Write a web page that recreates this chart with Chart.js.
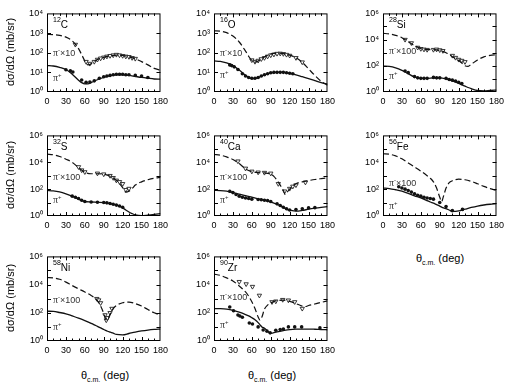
<!DOCTYPE html>
<html>
<head>
<meta charset="utf-8">
<script src="https://cdn.jsdelivr.net/npm/chart.js@4.4.1/dist/chart.umd.min.js"></script>
<style>
  body { margin: 0; background: #fff; }
  #wrap { position: relative; width: 517px; height: 388px; overflow: hidden; font-family: "Liberation Sans", Arial, sans-serif; }
  canvas { position: absolute; }
  .ytitle { position: absolute; font-size: 11px; white-space: nowrap; transform: translate(-50%, -50%) rotate(-90deg); }
  .xtitle { position: absolute; font-size: 11px; white-space: nowrap; transform: translate(-50%, -50%); }
  .xtitle sub { font-size: 7px; }
</style>
</head>
<body>
<div id="wrap"></div>
<script>
// axis ticks
const xTicks = [0, 30, 60, 90, 120, 150, 180];
const yTicksSmall = [1, 10, 100, 1000, 10000];
const yLabelsSmall = ["10⁰", "10¹", "10²", "10³", "10⁴"];
const yTicksLarge = [1, 100, 10000, 1000000];
const yLabelsLarge = ["10⁰", "10²", "10⁴", "10⁶"];

// 12C
const c12Angles = [0, 10, 20, 30, 40, 50, 55, 60, 65, 70, 80, 90, 100, 110, 120, 130, 140, 150, 160, 170, 180];
const c12MinusCurve = [850, 830, 760, 620, 400, 160, 80, 38, 24, 27, 45, 58, 70, 75, 72, 62, 50, 35, 24, 16, 13];
const c12PlusCurve = [22, 21, 18, 14, 8, 4, 3, 2.6, 2.6, 3, 4.2, 5.5, 6.8, 7.5, 7.5, 7, 6.2, 5.5, 5, 4.6, 4.5];
const c12MinusAngles = [45, 62, 68, 75, 80, 85, 90, 95, 100, 105, 110, 115, 120, 125, 130, 135, 140];
const c12MinusData = [260, 35, 28, 35, 45, 52, 58, 65, 70, 75, 80, 75, 70, 65, 62, 55, 50];
const c12PlusAngles = [30, 37, 41, 55, 62, 68, 75, 83, 90, 95, 100, 105, 110, 115, 120, 125, 130, 140, 150, 160];
const c12PlusData = [13.5, 12, 10.5, 4.1, 3.1, 3.2, 3.7, 5, 6, 6.5, 7, 7.5, 8, 8, 8, 7.5, 7.5, 7, 6.5, 5.5];

// 16O
const o16Angles = [0, 10, 20, 30, 40, 50, 55, 60, 65, 70, 80, 90, 100, 110, 120, 130, 140, 150, 160, 170, 180];
const o16MinusCurve = [1300, 1250, 1050, 700, 350, 120, 65, 40, 33, 38, 60, 85, 95, 90, 75, 55, 32, 15, 7, 3.5, 2.2];
const o16PlusCurve = [38, 36, 30, 22, 13, 7, 5.5, 4.8, 4.8, 5.5, 7.5, 9.5, 10, 10, 9, 7.5, 6, 4.8, 3.8, 3, 2.5];
const o16MinusAngles = [60, 65, 70, 75, 80, 85, 90, 95, 100, 105, 110, 115, 120, 130, 140];
const o16MinusData = [42, 35, 40, 48, 55, 65, 75, 82, 90, 92, 88, 80, 72, 55, 33];
const o16PlusAngles = [25, 28, 32, 38, 45, 50, 55, 60, 65, 70, 75, 80, 85, 90, 95, 100, 105, 110, 115, 120, 125];
const o16PlusData = [24, 22, 19, 14, 8.5, 6.5, 5.5, 5, 5, 5.5, 6.5, 7.5, 8.5, 9.5, 10, 10, 10, 10, 9.5, 9, 8.5];

// 28Si
const si28Angles = [0, 10, 20, 30, 40, 50, 60, 70, 80, 90, 100, 110, 120, 125, 130, 135, 140, 150, 160, 170, 180];
const si28MinusCurve = [30000, 27000, 21000, 14000, 7000, 3500, 2100, 1700, 1700, 1500, 1000, 500, 250, 160, 100, 90, 130, 280, 480, 620, 700];
const si28PlusCurve = [95, 90, 70, 45, 25, 14, 11, 11, 12, 12, 10, 7, 4.5, 3.5, 2.8, 2.2, 1.8, 1.3, 1.2, 1.3, 1.4];
const si28MinusAngles = [35, 45, 55, 60, 65, 70, 80, 85, 90, 95, 110, 115, 120, 125, 130];
const si28MinusData = [10000, 5500, 2500, 2000, 1800, 1700, 1700, 1800, 1600, 1400, 600, 420, 300, 250, 200];
const si28PlusAngles = [35, 40, 50, 55, 60, 65, 70, 80, 85, 90, 100, 105, 110, 115, 120, 125];
const si28PlusData = [40, 30, 15, 12, 11, 11, 11, 13, 12, 12, 11, 9, 8, 7, 5.5, 4.5];

// 32S
const s32Angles = [0, 10, 20, 30, 40, 50, 60, 70, 80, 90, 100, 110, 115, 120, 125, 130, 135, 140, 150, 160, 170, 180];
const s32MinusCurve = [40000, 36000, 27000, 17000, 10000, 4000, 1800, 1400, 1400, 1300, 900, 450, 250, 130, 60, 70, 110, 200, 350, 500, 650, 750];
const s32PlusCurve = [80, 75, 62, 45, 30, 18, 12, 11, 10.5, 10, 8.5, 6.5, 5.3, 4, 2.8, 2, 1.5, 1.2, 1.05, 1.15, 1.3, 1.5];
const s32MinusAngles = [50, 55, 60, 80, 90, 100, 105, 110, 115, 120, 125, 130];
const s32MinusData = [4500, 2600, 1900, 1500, 1300, 1000, 700, 450, 350, 250, 90, 110];
const s32PlusAngles = [40, 45, 50, 55, 60, 70, 80, 90, 95, 100, 105, 110, 115, 120];
const s32PlusData = [30, 25, 20, 15, 12, 11, 10.5, 10, 9.5, 8.5, 7.5, 6.5, 5.5, 4.5];

// 40Ca
const ca40Angles = [0, 10, 20, 30, 40, 50, 60, 70, 80, 90, 95, 100, 105, 110, 113, 116, 120, 130, 140, 150, 160, 170, 180];
const ca40MinusCurve = [38000, 34000, 25000, 16000, 8000, 3200, 2000, 1700, 1600, 1300, 900, 450, 200, 80, 40, 60, 100, 250, 350, 430, 520, 600, 680];
const ca40PlusCurve = [80, 78, 70, 55, 42, 33, 25, 19, 15, 11, 9, 7.5, 6, 4.5, 3.6, 3, 2.7, 2.3, 2.6, 3.2, 3.8, 4.4, 5];
const ca40MinusAngles = [38, 50, 60, 70, 80, 90, 102, 112, 120, 125, 130, 145];
const ca40MinusData = [12000, 3500, 2100, 1800, 1700, 1500, 250, 70, 110, 160, 200, 320];
const ca40PlusAngles = [25, 30, 35, 40, 45, 50, 55, 60, 70, 75, 80, 85, 90, 100, 105, 110, 115, 120, 130, 140, 150, 160];
const ca40PlusData = [70, 55, 40, 30, 25, 22, 20, 18, 17, 16, 15, 14, 12, 8, 6, 4.5, 3.5, 2.8, 3, 3.5, 4, 4.2];

// 56Fe
const fe56Angles = [0, 10, 20, 30, 40, 50, 60, 70, 75, 80, 85, 90, 93, 96, 100, 105, 110, 120, 130, 140, 150, 160, 170, 180];
const fe56MinusCurve = [43000, 40000, 30000, 18000, 9000, 4500, 2200, 1000, 650, 350, 120, 25, 12, 30, 120, 300, 420, 550, 500, 380, 250, 160, 110, 80];
const fe56PlusCurve = [120, 110, 90, 70, 48, 32, 22, 14, 11, 9, 7, 5.5, 4.6, 4, 3.5, 2.8, 2.2, 2.4, 3.2, 4.3, 5.5, 6.6, 7.5, 8.2];
const fe56PlusAngles = [25, 30, 35, 40, 45, 50, 55, 60, 65, 70, 75, 80, 90, 100, 110, 126];
const fe56PlusData = [150, 120, 100, 80, 60, 45, 35, 30, 25, 22, 20, 18, 10, 5, 2.5, 3.1];

// 58Ni
const ni58Angles = [0, 10, 20, 30, 40, 50, 60, 70, 75, 80, 85, 90, 93, 96, 99, 102, 105, 110, 120, 130, 140, 150, 160, 170, 180];
const ni58MinusCurve = [32000, 30000, 24000, 15000, 8500, 5000, 3000, 1700, 1200, 700, 300, 90, 35, 30, 60, 120, 200, 330, 520, 580, 450, 300, 170, 100, 70];
const ni58PlusCurve = [130, 125, 105, 85, 60, 42, 28, 18, 14, 11, 8.5, 6.5, 5.6, 4.9, 4.4, 4, 3.6, 2.9, 2.7, 3.4, 4.3, 5.2, 6, 6.6, 7];
const ni58MinusAngles = [79, 82, 85, 92, 94, 96, 100, 103];
const ni58MinusData = [1000, 800, 500, 70, 30, 45, 100, 200];

// 90Zr
const zr90Angles = [0, 10, 20, 30, 40, 50, 55, 60, 65, 70, 73, 76, 80, 85, 90, 100, 110, 120, 130, 140, 145, 150, 160, 170, 180];
const zr90MinusCurve = [55000, 45000, 30000, 18000, 8000, 3000, 1500, 600, 200, 50, 30, 50, 180, 350, 500, 750, 780, 650, 450, 300, 280, 330, 420, 550, 700];
const zr90PlusCurve = [200, 195, 180, 150, 110, 75, 60, 45, 32, 20, 14, 10, 8, 5, 3.5, 4.5, 5.5, 6.5, 7, 7, 7, 7, 6.8, 6.5, 6.3];
const zr90MinusAngles = [40, 51, 61, 72, 92, 98, 109, 118, 128, 140];
const zr90MinusData = [16000, 11000, 7200, 1700, 590, 660, 850, 780, 590, 200];
const zr90PlusAngles = [25, 31, 38, 41, 45, 56, 61, 70, 78, 84, 89, 98, 105, 110, 118, 128, 139, 168];
const zr90PlusData = [260, 140, 70, 60, 48, 19, 16, 10, 6, 5, 3.8, 5.8, 6.5, 7, 10, 10, 10, 8.5];

// layout of the plot boxes
const colLeft = [47, 214, 383];
const rowTop = [12, 134, 255];
const rowHeight = [80, 82, 86];
const boxWidth = 115;

Chart.defaults.font.family = '"Liberation Sans", Arial, sans-serif';
Chart.defaults.color = "#000";

const panels = [
    { row: 0, col: 0, mass: "12", sym: "C", mult: "10", big: false, ang: c12Angles, minus: c12MinusCurve, plus: c12PlusCurve,
      triA: c12MinusAngles, triV: c12MinusData, dotA: c12PlusAngles, dotV: c12PlusData, piM: 0.51, piP: 0.82 },
    { row: 0, col: 1, mass: "16", sym: "O", mult: "10", big: false, ang: o16Angles, minus: o16MinusCurve, plus: o16PlusCurve,
      triA: o16MinusAngles, triV: o16MinusData, dotA: o16PlusAngles, dotV: o16PlusData, piM: 0.5, piP: 0.79 },
    { row: 0, col: 2, mass: "28", sym: "Si", mult: "100", big: true, ang: si28Angles, minus: si28MinusCurve, plus: si28PlusCurve,
      triA: si28MinusAngles, triV: si28MinusData, dotA: si28PlusAngles, dotV: si28PlusData, piM: 0.48, piP: 0.8 },
    { row: 1, col: 0, mass: "32", sym: "S", mult: "100", big: true, ang: s32Angles, minus: s32MinusCurve, plus: s32PlusCurve,
      triA: s32MinusAngles, triV: s32MinusData, dotA: s32PlusAngles, dotV: s32PlusData, piM: 0.52, piP: 0.8 },
    { row: 1, col: 1, mass: "40", sym: "Ca", mult: "100", big: true, ang: ca40Angles, minus: ca40MinusCurve, plus: ca40PlusCurve,
      triA: ca40MinusAngles, triV: ca40MinusData, dotA: ca40PlusAngles, dotV: ca40PlusData, piM: 0.52, piP: 0.8 },
    { row: 1, col: 2, mass: "56", sym: "Fe", mult: "100", big: true, ang: fe56Angles, minus: fe56MinusCurve, plus: fe56PlusCurve,
      triA: [], triV: [], dotA: fe56PlusAngles, dotV: fe56PlusData, piM: 0.59, piP: 0.88 },
    { row: 2, col: 0, mass: "58", sym: "Ni", mult: "100", big: true, ang: ni58Angles, minus: ni58MinusCurve, plus: ni58PlusCurve,
      triA: ni58MinusAngles, triV: ni58MinusData, dotA: [], dotV: [], piM: 0.52, piP: 0.83 },
    { row: 2, col: 1, mass: "90", sym: "Zr", mult: "100", big: true, ang: zr90Angles, minus: zr90MinusCurve, plus: zr90PlusCurve,
      triA: zr90MinusAngles, triV: zr90MinusData, dotA: zr90PlusAngles, dotV: zr90PlusData, piM: 0.48, piP: 0.81 }
];

function pts(xs, ys) {
    return xs.map((x, i) => ({ x: x, y: ys[i] }));
}

// box, inward ticks and in-panel labels
const framePlugin = {
    id: "frame",
    afterDatasetsDraw(chart, args, opts) {
        const ctx = chart.ctx;
        const a = chart.chartArea;
        const xs = chart.scales.x;
        const ys = chart.scales.y;
        ctx.save();
        ctx.strokeStyle = "#000";
        ctx.lineWidth = 1;
        ctx.strokeRect(a.left + 0.5, a.top + 0.5, a.right - a.left - 1, a.bottom - a.top - 1);

        ctx.beginPath();
        for (let v = 10; v < 180; v += 10) {
            const px = Math.round(xs.getPixelForValue(v)) + 0.5;
            const len = v % 30 === 0 ? 4 : 2.5;
            ctx.moveTo(px, a.bottom);
            ctx.lineTo(px, a.bottom - len);
            ctx.moveTo(px, a.top);
            ctx.lineTo(px, a.top + len);
        }
        const maxDec = opts.big ? 6 : 4;
        for (let d = 1; d < maxDec; d++) {
            const py = Math.round(ys.getPixelForValue(Math.pow(10, d))) + 0.5;
            ctx.moveTo(a.left, py);
            ctx.lineTo(a.left + 4, py);
            ctx.moveTo(a.right, py);
            ctx.lineTo(a.right - 4, py);
        }
        ctx.stroke();

        // nucleus label
        const h = a.bottom - a.top;
        const x0 = a.left + 6;
        ctx.fillStyle = "#000";
        ctx.textBaseline = "alphabetic";
        ctx.font = '7px "Liberation Sans", Arial, sans-serif';
        ctx.fillText(opts.mass, x0, a.top + 9);
        const mw = ctx.measureText(opts.mass).width;
        ctx.font = '10px "Liberation Sans", Arial, sans-serif';
        ctx.fillText(opts.sym, x0 + mw, a.top + 15);

        // pion labels
        ctx.fillStyle = "#333";
        const drawPi = (y, sign, tail) => {
            let x = x0;
            ctx.font = '10px "Liberation Serif", serif';
            ctx.fillText("π", x, y + 3);
            x += ctx.measureText("π").width;
            ctx.font = '6px "Liberation Sans", Arial, sans-serif';
            ctx.fillText(sign, x, y - 1);
            x += ctx.measureText(sign).width;
            if (tail) {
                ctx.font = '9px "Liberation Sans", Arial, sans-serif';
                ctx.fillText(tail, x, y + 3);
            }
        };
        drawPi(a.top + opts.piM * h, "-", "×" + opts.mult);
        drawPi(a.top + opts.piP * h, "+", "");
        ctx.restore();
    }
};

const wrap = document.getElementById("wrap");

panels.forEach((p, i) => {
    const left = colLeft[p.col];
    const top = rowTop[p.row];
    const h = rowHeight[p.row];
    const yw = 40, padTop = 8, padRight = 10, xh = 18;

    const canvas = document.createElement("canvas");
    canvas.width = yw + boxWidth + padRight;
    canvas.height = padTop + h + xh;
    canvas.style.left = (left - yw) + "px";
    canvas.style.top = (top - padTop) + "px";
    wrap.appendChild(canvas);

    const yTicks = p.big ? yTicksLarge : yTicksSmall;
    const yLabels = p.big ? yLabelsLarge : yLabelsSmall;

    new Chart(canvas.getContext("2d"), {
        type: "scatter",
        data: {
            datasets: [
                {
                    data: pts(p.ang, p.minus),
                    showLine: true,
                    borderColor: "#111",
                    borderWidth: 1.2,
                    borderDash: [6, 3],
                    pointRadius: 0,
                    cubicInterpolationMode: "monotone"
                },
                {
                    data: pts(p.ang, p.plus),
                    showLine: true,
                    borderColor: "#111",
                    borderWidth: 1.3,
                    pointRadius: 0,
                    cubicInterpolationMode: "monotone"
                },
                {
                    data: pts(p.triA, p.triV),
                    pointStyle: "triangle",
                    rotation: 180,
                    pointRadius: 2.5,
                    pointBackgroundColor: "#fff",
                    pointBorderColor: "#222",
                    pointBorderWidth: 0.9
                },
                {
                    data: pts(p.dotA, p.dotV),
                    pointStyle: "circle",
                    pointRadius: 1.8,
                    pointBackgroundColor: "#111",
                    pointBorderColor: "#111",
                    pointBorderWidth: 0
                }
            ]
        },
        options: {
            responsive: false,
            animation: false,
            devicePixelRatio: 1,
            layout: { padding: { left: 0, top: padTop, right: padRight, bottom: 0 } },
            plugins: {
                legend: { display: false },
                tooltip: { enabled: false },
                frame: p
            },
            scales: {
                x: {
                    type: "linear",
                    min: 0,
                    max: 180,
                    afterBuildTicks: (s) => { s.ticks = xTicks.map(v => ({ value: v })); },
                    afterFit: (s) => { s.height = xh; },
                    ticks: { font: { size: 9 }, padding: 4, maxRotation: 0, autoSkip: false },
                    grid: { display: false, drawTicks: false },
                    border: { display: false }
                },
                y: {
                    type: "logarithmic",
                    min: yTicks[0],
                    max: yTicks[yTicks.length - 1],
                    afterBuildTicks: (s) => { s.ticks = yTicks.map(v => ({ value: v })); },
                    afterFit: (s) => { s.width = yw; },
                    ticks: {
                        font: { size: 9 },
                        padding: 4,
                        autoSkip: false,
                        callback: (v) => yLabels[yTicks.indexOf(v)]
                    },
                    grid: { display: false, drawTicks: false },
                    border: { display: false }
                }
            }
        },
        plugins: [framePlugin]
    });
});

// axis titles
function addText(cls, html, x, y) {
    const d = document.createElement("div");
    d.className = cls;
    d.innerHTML = html;
    d.style.left = x + "px";
    d.style.top = y + "px";
    wrap.appendChild(d);
}
const yTitle = "dσ/dΩ (mb/sr)";
addText("ytitle", yTitle, 10, 52);
addText("ytitle", yTitle, 10, 175);
addText("ytitle", yTitle, 10, 298);
const xTitle = "θ<sub>c.m.</sub> (deg)";
addText("xtitle", xTitle, 440, 259);
addText("xtitle", xTitle, 105, 376);
addText("xtitle", xTitle, 272, 376);
</script>
</body>
</html>
